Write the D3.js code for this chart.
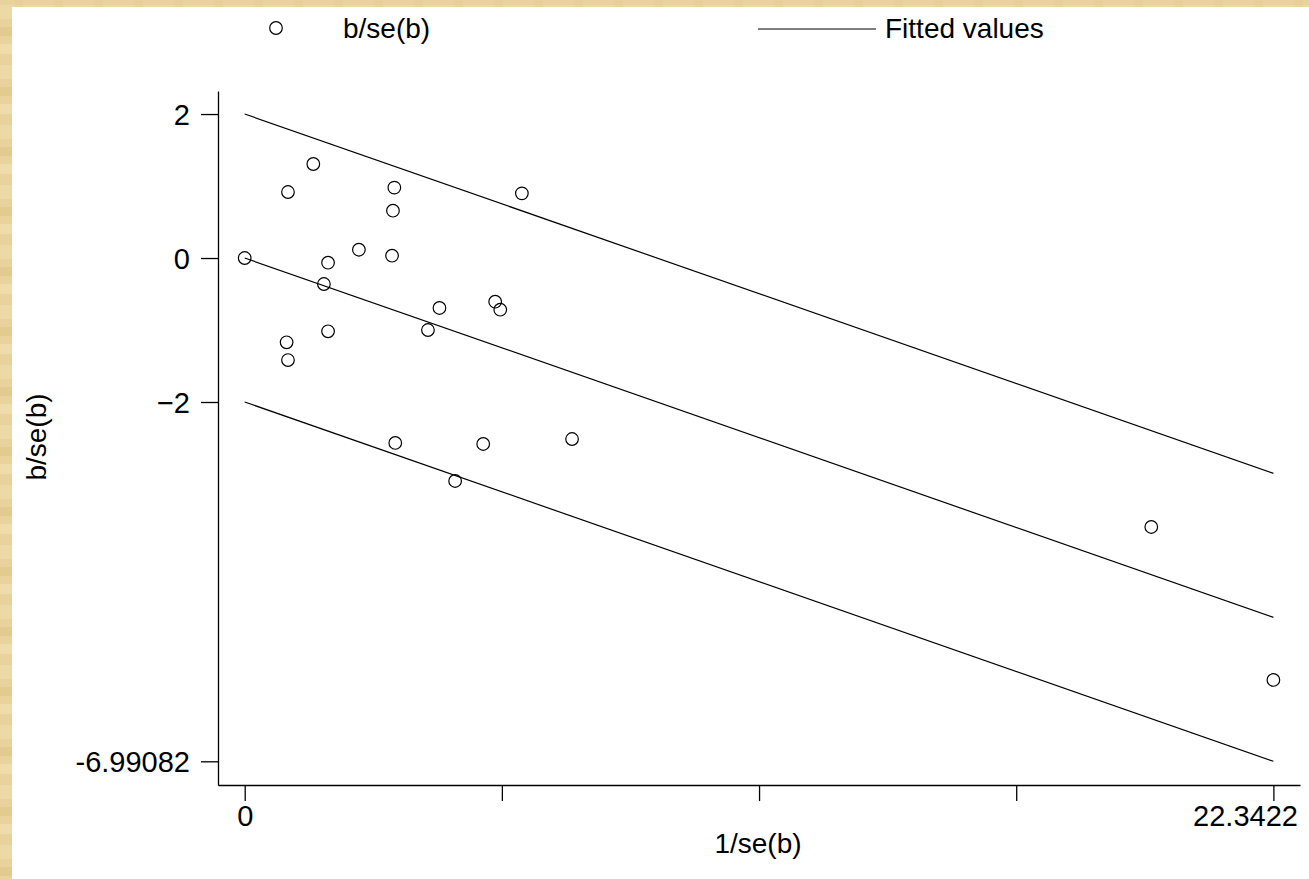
<!DOCTYPE html>
<html>
<head>
<meta charset="utf-8">
<script src="https://cdn.jsdelivr.net/npm/d3@7"></script>
<style>
  body { margin: 0; background: #fff; }
  text { font-family: "Liberation Sans", Arial, sans-serif; fill: #000; }
</style>
</head>
<body>
<div id="chart"></div>
<script>
// precision (1/se) and standardized effect (b/se) for each study
const invSe = [0, 0.94, 1.49, 3.25, 3.22, 6.02, 2.48, 3.20, 1.81, 1.72, 4.23, 5.44, 5.55,
               3.98, 1.81, 0.91, 0.94, 3.27, 5.18, 7.11, 4.57, 19.69, 22.3422];
const zScore = [0, 0.917, 1.306, 0.978, 0.657, 0.898, 0.115, 0.032, -0.065, -0.361, -0.694,
                -0.607, -0.718, -1.0, -1.018, -1.171, -1.417, -2.569, -2.583, -2.514, -3.097,
                -3.736, -5.861];

// fitted line and +/-2 band, at x = 0 and x = max
const fitX = [0, 22.3422];
const fitMid = [0, -4.99082];
const fitUpper = [2, -2.99082];
const fitLower = [-2, -6.99082];

const yTicks = [2, 0, -2, -6.99082];
const xTicks = [0, 5.58555, 11.1711, 16.75665, 22.3422];
const xTickLabels = {0: "0", 22.3422: "22.3422"};

const W = 1309, H = 879;
const svg = d3.select("#chart").append("svg")
  .attr("width", W).attr("height", H);

// tan textured frame on the left/top (soft wood-like stripes)
const defs = svg.append("defs");
const pat = defs.append("pattern").attr("id", "tex")
  .attr("patternUnits", "userSpaceOnUse").attr("width", 40).attr("height", 60);
pat.append("rect").attr("width", 40).attr("height", 60).attr("fill", "#e9d29c");
pat.append("rect").attr("x", 0).attr("y", 5).attr("width", 40).attr("height", 14).attr("fill", "#eedba9").attr("opacity", 0.8);
pat.append("rect").attr("x", 0).attr("y", 27).attr("width", 40).attr("height", 9).attr("fill", "#e2c689").attr("opacity", 0.7);
pat.append("rect").attr("x", 0).attr("y", 44).attr("width", 40).attr("height", 10).attr("fill", "#f1e0b3").attr("opacity", 0.7);
pat.append("rect").attr("x", 14).attr("y", 0).attr("width", 9).attr("height", 60).attr("fill", "#e4ca8f").attr("opacity", 0.35);

svg.append("rect").attr("width", W).attr("height", H).attr("fill", "url(#tex)");
svg.append("rect").attr("x", 12).attr("y", 7).attr("width", W - 12).attr("height", H - 7).attr("fill", "#fff");

const x = d3.scaleLinear().domain([-0.58, 22.92]).range([218, 1300]);
const y = d3.scaleLinear().domain([-7.32, 2.32]).range([785, 91]);

// axes
const yAxis = svg.append("g")
  .attr("transform", "translate(218,0)")
  .call(d3.axisLeft(y).tickValues(yTicks).tickSize(17).tickSizeOuter(0).tickPadding(11)
    .tickFormat(d => d === -6.99082 ? "-6.99082" : d3.format("d")(d)));
yAxis.selectAll("text").style("font-size", "29px").attr("dy", "0.35em");

const xAxis = svg.append("g")
  .attr("transform", "translate(0,785)")
  .call(d3.axisBottom(x).tickValues(xTicks).tickSize(16).tickSizeOuter(0).tickPadding(4)
    .tickFormat(d => xTickLabels[d] || ""));
xAxis.selectAll("text").style("font-size", "29px");
xAxis.selectAll("text").filter(d => d === 22.3422)
  .attr("text-anchor", "end").attr("x", 24);

svg.selectAll(".domain, .tick line").attr("stroke", "#000").attr("stroke-width", 1.3);

// axis titles
svg.append("text").attr("x", 758).attr("y", 853).attr("text-anchor", "middle")
  .style("font-size", "28px").text("1/se(b)");
svg.append("text").attr("transform", "translate(46,437) rotate(-90)")
  .attr("text-anchor", "middle").style("font-size", "28px").text("b/se(b)");

// fitted lines
const lineGen = d3.line().x(d => x(d[0])).y(d => y(d[1]));
[fitUpper, fitMid, fitLower].forEach(fy => {
  svg.append("path")
    .datum(fitX.map((v, i) => [v, fy[i]]))
    .attr("d", lineGen)
    .attr("fill", "none").attr("stroke", "#000").attr("stroke-width", 1.2);
});

// points
svg.append("g").selectAll("circle")
  .data(invSe.map((v, i) => ({x: v, y: zScore[i]})))
  .join("circle")
    .attr("cx", d => x(d.x))
    .attr("cy", d => y(d.y))
    .attr("r", 6.3)
    .attr("fill", "none")
    .attr("stroke", "#000")
    .attr("stroke-width", 1.2);

// legend
svg.append("circle").attr("cx", 276).attr("cy", 28).attr("r", 6.3)
  .attr("fill", "none").attr("stroke", "#000").attr("stroke-width", 1.2);
svg.append("text").attr("x", 343).attr("y", 38).style("font-size", "28px").text("b/se(b)");
svg.append("line").attr("x1", 758).attr("x2", 876).attr("y1", 29).attr("y2", 29)
  .attr("stroke", "#555").attr("stroke-width", 1.4);
svg.append("text").attr("x", 885).attr("y", 38).style("font-size", "28px").text("Fitted values");
</script>
</body>
</html>
